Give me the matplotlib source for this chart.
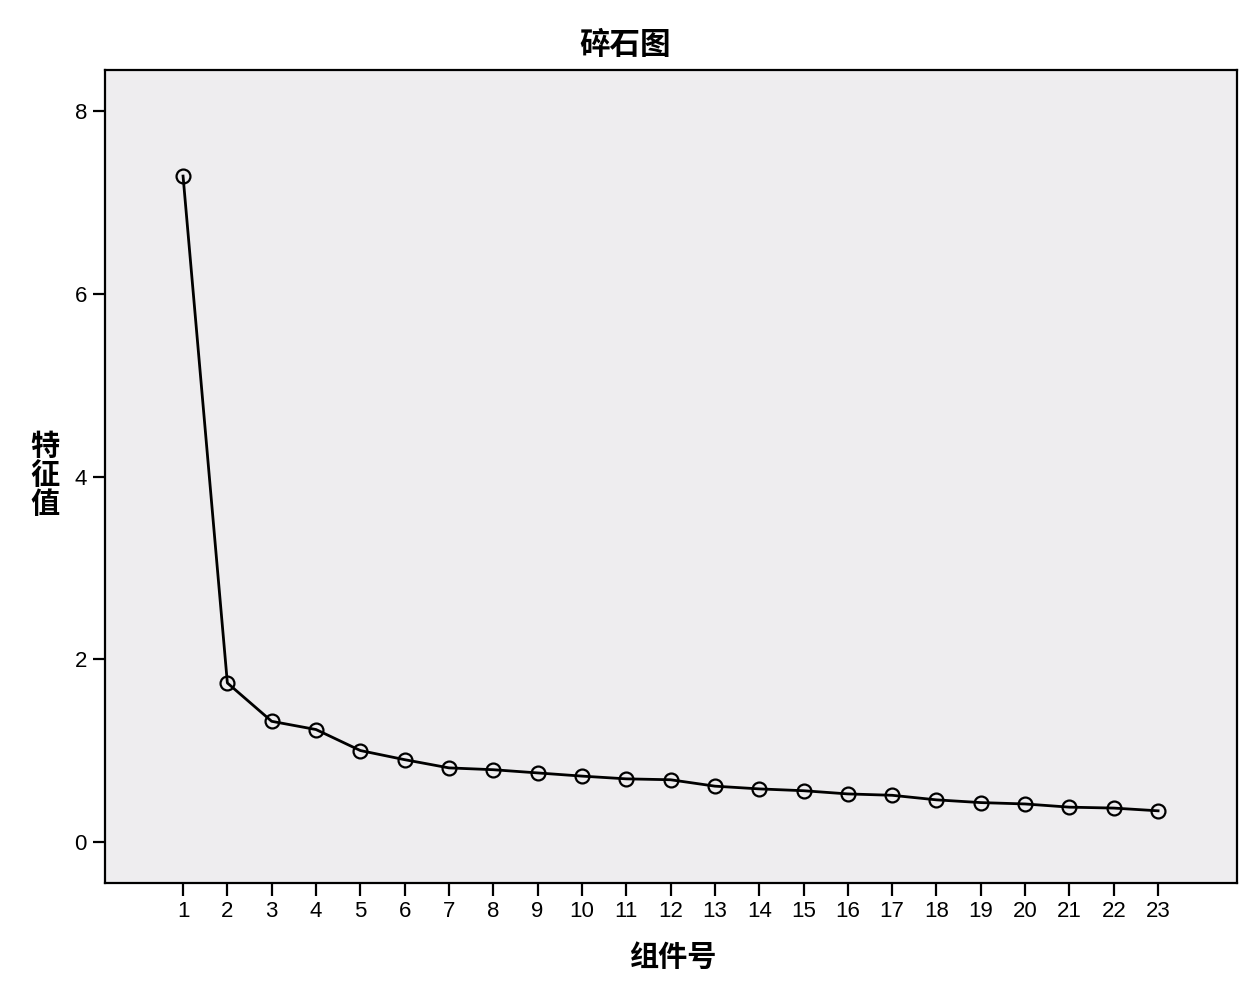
import numpy as np
import matplotlib.pyplot as plt

plt.rcParams['font.family'] = ['Liberation Sans', 'Noto Sans CJK SC', 'DejaVu Sans']

# component number and eigenvalues
components = list(range(1, 24))
eigenvalues = [7.29, 1.74, 1.32, 1.23, 1.00, 0.90, 0.81, 0.79, 0.755, 0.72,
               0.69, 0.68, 0.61, 0.58, 0.56, 0.525, 0.51, 0.46, 0.43, 0.415,
               0.38, 0.37, 0.34]
y_ticks = [0, 2, 4, 6, 8]

fig = plt.figure(figsize=(12.52, 10.02), dpi=100)
ax = fig.add_axes([0.0839, 0.1188, 0.9041, 0.8112])
ax.set_facecolor('#eeedef')

ax.plot(components, eigenvalues, color='black', lw=2,
        marker='o', ms=10, mfc='none', mec='black', mew=1.6)

ax.set_xlim(-0.76, 24.78)
ax.set_ylim(-0.45, 8.45)
ax.set_xticks(components)
ax.set_yticks(y_ticks)
ax.tick_params(direction='out', length=9, width=1.6, labelsize=16, pad=4)
for s in ax.spines.values():
    s.set_linewidth(1.6)

cjk = ['Noto Sans CJK SC', 'DejaVu Sans']
fig.text(0.499, 0.955, '碎石图', ha='center', va='center', fontsize=22,
         fontweight='bold', family=cjk)
fig.text(0.537, 0.045, '组件号', ha='center', va='center', fontsize=21,
         fontweight='bold', family=cjk)
fig.text(0.036, 0.526, '特\n征\n值', ha='center', va='center', fontsize=21,
         fontweight='bold', family=cjk, linespacing=0.95)

fig.savefig('out.png', dpi=100)
